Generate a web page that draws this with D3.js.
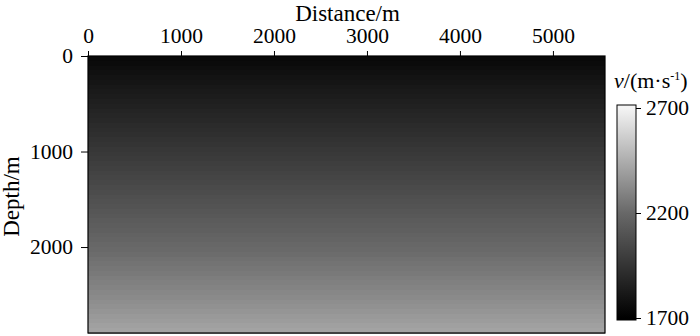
<!DOCTYPE html>
<html>
<head>
<meta charset="utf-8">
<script src="https://cdn.jsdelivr.net/npm/d3@7"></script>
<style>
  html, body { margin: 0; padding: 0; background: #fff; }
  svg { display: block; }
  svg text { font-family: "Liberation Serif", "DejaVu Serif", serif !important; fill: #000; }
</style>
</head>
<body>
<svg id="chart" width="700" height="336"></svg>
<script>
// ---- data ----
// layer top depths (m), 50 m thick layers
const layerTops = [0,50,100,150,200,250,300,350,400,450,500,550,600,650,700,750,800,850,900,950,
  1000,1050,1100,1150,1200,1250,1300,1350,1400,1450,1500,1550,1600,1650,1700,1750,1800,1850,1900,1950,
  2000,2050,2100,2150,2200,2250,2300,2350,2400,2450,2500,2550,2600,2650,2700,2750,2800,2850];
// velocity (m/s) of each layer, constant along distance
const layerVelocity = [1744,1755,1767,1778,1790,1801,1813,1824,1836,1847,1859,1871,1882,1894,1905,1917,1928,1940,1951,1963,
  1974,1986,1997,2009,2020,2032,2043,2055,2066,2078,2090,2101,2113,2124,2136,2147,2159,2170,2182,2193,
  2205,2216,2228,2239,2251,2262,2274,2286,2298,2311,2323,2336,2348,2361,2374,2386,2399,2412];
const layerThickness = 50;
const distanceExtent = [0, 5560];
const depthExtent = [0, 2900];
const distanceTicks = [0, 1000, 2000, 3000, 4000, 5000];
const depthTicks = [0, 1000, 2000];
const velocityTicks = [1700, 2200, 2700];
const colorStops = [1700, 2200, 2700];
const colorValues = ["#000000", "#686868", "#f4f4f4"];

// ---- drawing ----
const svg = d3.select("#chart");
const L = 88, R = 605, T = 56, B = 333;
const serif = '"Liberation Serif", "DejaVu Serif", serif';

const x = d3.scaleLinear().domain(distanceExtent).range([L, R]);
const y = d3.scaleLinear().domain(depthExtent).range([T, B]);
const color = d3.scaleLinear().domain(colorStops).range(colorValues);

const layers = layerTops.map((d, i) => ({ top: d, v: layerVelocity[i] }));

svg.append("g").selectAll("rect").data(layers).join("rect")
  .attr("x", x(distanceExtent[0]))
  .attr("width", x(distanceExtent[1]) - x(distanceExtent[0]))
  .attr("y", d => y(d.top))
  .attr("height", d => y(Math.min(d.top + layerThickness, depthExtent[1])) - y(d.top) + 0.6)
  .attr("fill", d => color(d.v))
  .attr("shape-rendering", "crispEdges");

svg.append("rect")
  .attr("x", L).attr("y", T).attr("width", R - L).attr("height", B - T)
  .attr("fill", "none").attr("stroke", "#000").attr("stroke-width", 1.2);

const fs = "21.5px";
const fmt = d3.format("d");
function styleAxis(g) {
  g.attr("font-family", serif).attr("font-size", 21);
  g.select(".domain").remove();
  g.selectAll("text").style("font-family", serif).style("font-size", fs);
}
const xAxis = svg.append("g").attr("transform", `translate(0,${T})`)
  .call(d3.axisTop(x).tickValues(distanceTicks).tickFormat(fmt).tickSize(5).tickSizeOuter(0).tickPadding(8));
styleAxis(xAxis);

const yAxis = svg.append("g").attr("transform", `translate(${L},0)`)
  .call(d3.axisLeft(y).tickValues(depthTicks).tickFormat(fmt).tickSize(7).tickSizeOuter(0).tickPadding(8));
styleAxis(yAxis);

svg.append("text").attr("x", (L + R) / 2 + 1).attr("y", 21)
  .attr("text-anchor", "middle").style("font-size", "23px").text("Distance/m");

svg.append("text").attr("transform", `translate(19,${(T + B) / 2 + 2}) rotate(-90)`)
  .attr("text-anchor", "middle").style("font-size", "23px").text("Depth/m");

// colorbar
const cbX = 617, cbW = 19, cbTop = 105, cbBot = 320;
const cy = d3.scaleLinear().domain([1700, 2700]).range([318, 108]);
const defs = svg.append("defs");
const grad = defs.append("linearGradient").attr("id", "cbgrad")
  .attr("x1", 0).attr("y1", 1).attr("x2", 0).attr("y2", 0);
const span = cbBot - cbTop;
grad.selectAll("stop").data(colorStops).join("stop")
  .attr("offset", d => (cbBot - cy(d)) / span)
  .attr("stop-color", d => color(d));
svg.append("rect").attr("x", cbX).attr("y", cbTop).attr("width", cbW).attr("height", span)
  .attr("fill", "url(#cbgrad)").attr("stroke", "#000").attr("stroke-width", 1);

const cAxis = svg.append("g").attr("transform", `translate(${cbX + cbW},0)`)
  .call(d3.axisRight(cy).tickValues(velocityTicks).tickFormat(fmt).tickSize(5).tickSizeOuter(0).tickPadding(5));
styleAxis(cAxis);

const lab = svg.append("text").attr("x", 614).attr("y", 88).style("font-size", "22px");
lab.append("tspan").style("font-style", "italic").text("v");
lab.append("tspan").text("/(m·s");
lab.append("tspan").attr("dy", -8).style("font-size", "12px").text("-1");
lab.append("tspan").attr("dy", 8).text(")");
</script>
</body>
</html>
